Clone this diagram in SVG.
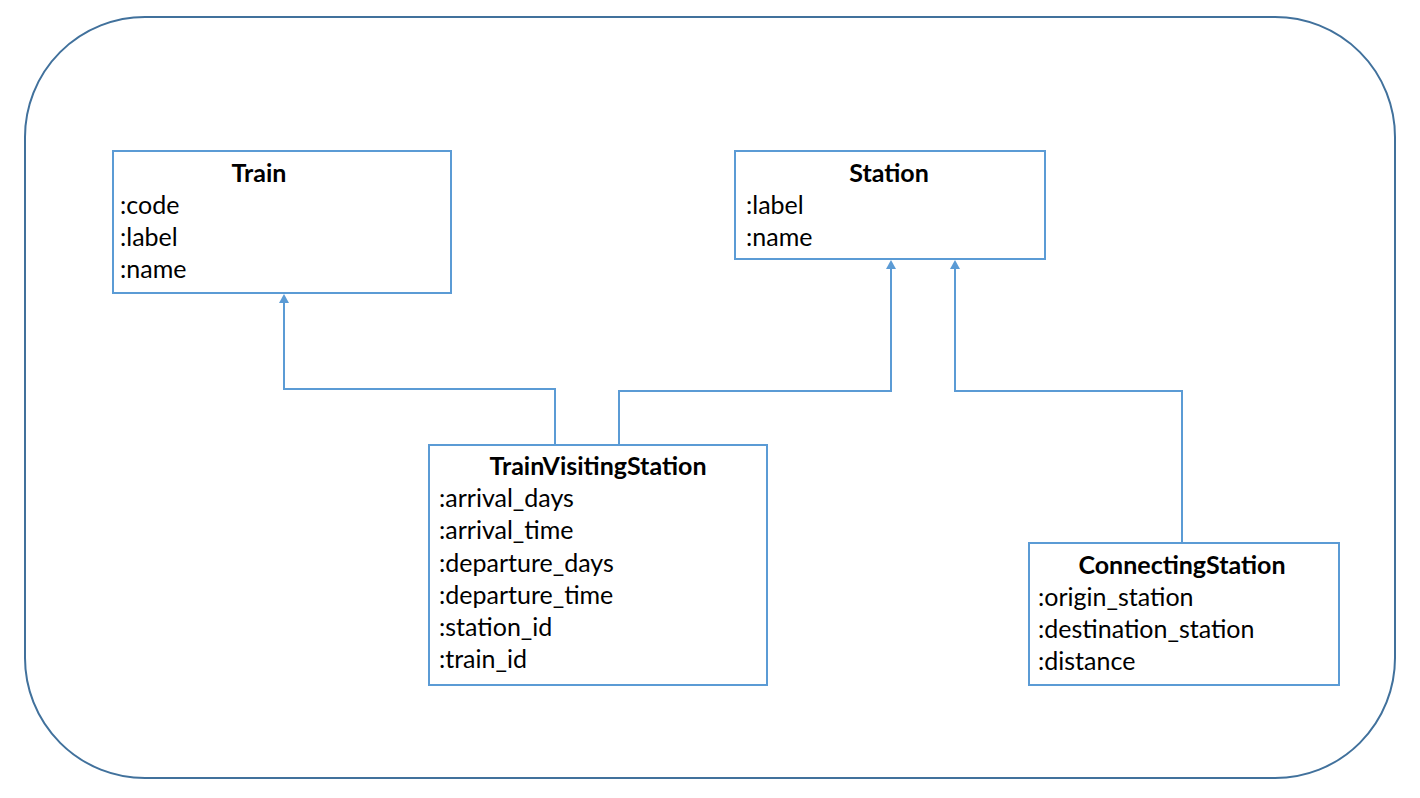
<svg xmlns="http://www.w3.org/2000/svg" width="1420" height="798" viewBox="0 0 1420 798">
<style>
.box{fill:#fff;stroke:#5b9bd5;stroke-width:2}
.frame{fill:none;stroke:#41719c;stroke-width:2}
.conn{fill:none;stroke:#5b9bd5;stroke-width:2}
.head{fill:#5b9bd5}
text{font-family:Lato,"Liberation Sans",sans-serif;font-size:25px;fill:#000}
.t{font-weight:bold;text-anchor:middle}
</style>
<rect class="frame" x="25" y="17" width="1370" height="761" rx="120" ry="120"/>
<g id="connectors">
<polyline class="conn" points="555,445 555,389 284,389 284,300"/>
<polyline class="conn" points="619,445 619,391 891,391 891,266"/>
<polyline class="conn" points="1182,543 1182,391 955,391 955,266"/>
<path class="head" d="M279,303 L284,294 L289,303 Z"/>
<path class="head" d="M886,269 L891,260 L896,269 Z"/>
<path class="head" d="M950,269 L955,260 L960,269 Z"/>
</g>
<g id="train">
<rect class="box" x="113" y="151" width="338" height="142"/>
<text class="t" x="259" y="182">Train</text>
<text x="120" y="214">:code</text>
<text x="120" y="246">:label</text>
<text x="120" y="278">:name</text>
</g>
<g id="station">
<rect class="box" x="735" y="151" width="310" height="108"/>
<text class="t" x="889" y="182">Station</text>
<text x="746" y="214">:label</text>
<text x="746" y="246">:name</text>
</g>
<g id="trainvisitingstation">
<rect class="box" x="429" y="445" width="338" height="240"/>
<text class="t" x="598" y="475">TrainVisitingStation</text>
<text x="439" y="507">:arrival_days</text>
<text x="439" y="539">:arrival_time</text>
<text x="439" y="572">:departure_days</text>
<text x="439" y="604">:departure_time</text>
<text x="439" y="636">:station_id</text>
<text x="439" y="668">:train_id</text>
</g>
<g id="connectingstation">
<rect class="box" x="1029" y="543" width="310" height="142"/>
<text class="t" x="1182" y="574">ConnectingStation</text>
<text x="1038" y="606">:origin_station</text>
<text x="1038" y="638">:destination_station</text>
<text x="1038" y="670">:distance</text>
</g>
</svg>
